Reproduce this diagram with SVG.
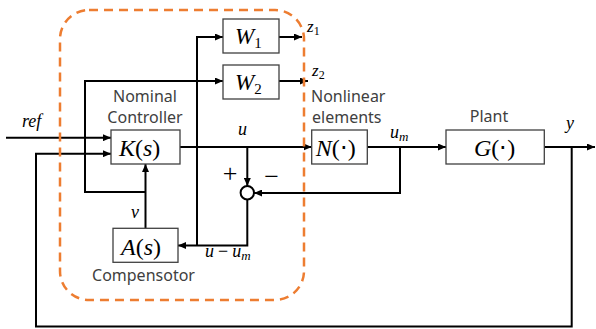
<svg xmlns="http://www.w3.org/2000/svg" width="596" height="329" viewBox="0 0 596 329">
<defs>
<marker id="ah" markerUnits="userSpaceOnUse" markerWidth="8" markerHeight="7" refX="8" refY="3.5" orient="auto">
<path d="M0,0 L8,3.5 L0,7 z" fill="#000"/>
</marker>
<style>
.w{fill:none;stroke:#000;stroke-width:2;stroke-linejoin:miter}
.a{marker-end:url(#ah)}
.box{fill:#fff;stroke:#404040;stroke-width:1.3}
.m{font-family:"Liberation Serif","Times New Roman",serif;font-style:italic;fill:#000}
.up{font-style:normal}
.lbl{font-family:"Noto Sans","DejaVu Sans",sans-serif;font-size:16px;fill:#404040}
.dash{fill:none;stroke:#ED7D31;stroke-width:2.5;stroke-dasharray:9 6}
</style>
</defs>
<rect width="596" height="329" fill="#fff"/>
<g id="connectors">
<path class="w a" d="M6,137.7 H111"/>
<path class="w a" d="M571.7,147 V326.5 H36 V153.7 H111"/>
<path class="w a" d="M145.5,228.5 V164"/>
<path class="w a" d="M145.5,192 H85 V81 H223"/>
<path class="w a" d="M180,147 H311.7"/>
<path class="w a" d="M247.3,147 V186"/>
<path class="w a" d="M367,147 H446"/>
<path class="w a" d="M400,147 V193 H254"/>
<path class="w a" d="M247.3,199.5 V245.5 H178"/>
<path class="w a" d="M197,245.5 V37 H223"/>
<path class="w a" d="M279,37 H302"/>
<path class="w a" d="M279,81 H308"/>
<path class="w a" d="M544,147 H595"/>
</g>
<g id="W1">
<rect class="box" x="223" y="19" width="56" height="34"/>
<text class="m" x="235" y="44" font-size="23">W<tspan class="up" font-size="15" dy="4">1</tspan></text>
</g>
<g id="W2">
<rect class="box" x="223" y="65" width="56" height="34"/>
<text class="m" x="235" y="90" font-size="23">W<tspan class="up" font-size="15" dy="4">2</tspan></text>
</g>
<g id="K">
<rect class="box" x="111" y="130" width="69" height="34"/>
<text class="m" x="119" y="156" font-size="24">K<tspan class="up">(</tspan>s<tspan class="up">)</tspan></text>
<text class="lbl" x="145" y="102" text-anchor="middle" font-size="15.5">Nominal</text>
<text class="lbl" x="145" y="123" text-anchor="middle" font-size="15.5">Controller</text>
</g>
<g id="N">
<rect class="box" x="311.7" y="130" width="55.6" height="34"/>
<text class="m" x="315.7" y="156" font-size="24">N<tspan class="up">(⋅)</tspan></text>
<text class="lbl" x="311" y="102" font-size="15.5">Nonlinear</text>
<text class="lbl" x="312" y="123" font-size="15.5">elements</text>
</g>
<g id="G">
<rect class="box" x="446" y="130" width="98.3" height="34"/>
<text class="m" x="474" y="156" font-size="24">G<tspan class="up">(⋅)</tspan></text>
<text class="lbl" x="489" y="122" text-anchor="middle">Plant</text>
</g>
<g id="A">
<rect class="box" x="113" y="228.3" width="65" height="34"/>
<text class="m" x="121" y="255" font-size="24">A<tspan class="up">(</tspan>s<tspan class="up">)</tspan></text>
<text class="lbl" x="143.5" y="281" text-anchor="middle">Compensotor</text>
</g>
<g id="sum">
<circle cx="247.3" cy="192.8" r="6.7" fill="#fff" stroke="#000" stroke-width="2"/>
<text x="230" y="182" font-family="Liberation Serif, serif" font-size="26" text-anchor="middle">+</text>
<text x="271.5" y="185" font-family="Liberation Serif, serif" font-size="26" text-anchor="middle">−</text>
</g>
<g id="labels">
<text class="m" x="22" y="127" font-size="18">ref</text>
<text class="m" x="238" y="135" font-size="18">u</text>
<text class="m" x="307" y="32" font-size="17">z<tspan class="up" font-size="12" dy="3">1</tspan></text>
<text class="m" x="312" y="76" font-size="17">z<tspan class="up" font-size="12" dy="3">2</tspan></text>
<text class="m" x="390" y="138" font-size="18">u<tspan font-size="13" dy="3">m</tspan></text>
<text class="m" x="566" y="129" font-size="18">y</text>
<text class="m" x="131" y="218" font-size="18">v</text>
<text class="m" x="205" y="257" font-size="18">u<tspan class="up" dx="4">−</tspan><tspan dx="4">u</tspan><tspan font-size="13" dy="3">m</tspan></text>
</g>
<rect id="boundary" class="dash" x="60" y="10" width="244" height="290" rx="29" ry="29"/>
</svg>
